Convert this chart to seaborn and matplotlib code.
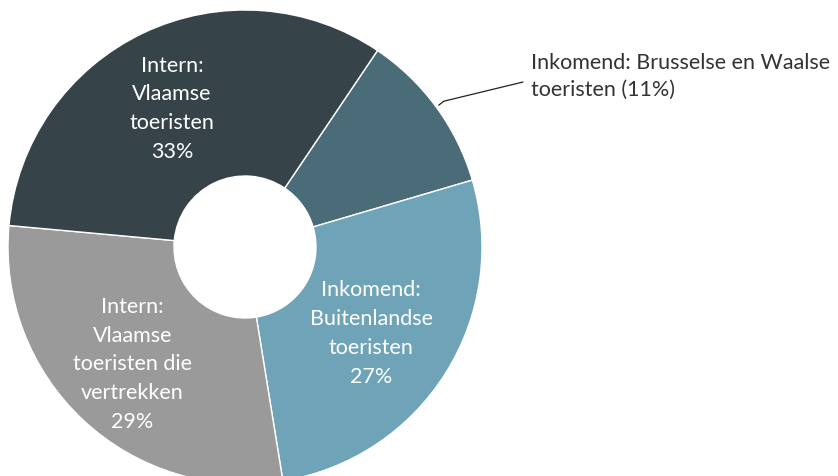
import matplotlib
matplotlib.use("Agg")
import matplotlib.pyplot as plt
import seaborn as sns
import numpy as np

categorieen = [
    "Inkomend: Brusselse en Waalse toeristen",
    "Inkomend:\nBuitenlandse\ntoeristen",
    "Intern:\nVlaamse\ntoeristen die\nvertrekken",
    "Intern:\nVlaamse\ntoeristen",
]
aandelen = [11, 27, 29, 33]
kleuren = ["#4a6b78", "#6fa3b8", "#9a9a9a", "#36444a"]

sns.set_theme(style="white")
plt.rcParams["font.family"] = ["Lato", "DejaVu Sans"]

W, H = 838, 476
fig = plt.figure(figsize=(W / 100, H / 100), dpi=100)
ax = fig.add_axes([0, 0, 1, 1])

cx, cy, r = 245, H - 247, 237
wedges, _ = ax.pie(
    aandelen,
    colors=kleuren,
    startangle=90 - 34,
    counterclock=False,
    center=(cx, cy),
    radius=r,
    wedgeprops=dict(width=r - 71, edgecolor="white", linewidth=1),
)

# labels binnen de ring (behalve het kleine segment)
for w, naam, pct in zip(wedges, categorieen, aandelen):
    if pct < 15:
        continue
    hoek = np.deg2rad((w.theta1 + w.theta2) / 2)
    afst = 0.66 * r
    ax.text(cx + afst * np.cos(hoek) - 6, cy + afst * np.sin(hoek) - 3,
            f"{naam}\n{pct}%", ha="center", va="center",
            color="white", fontsize=15.5, linespacing=1.55)

# callout voor het kleine segment
w = wedges[0]
hoek = np.deg2rad((w.theta1 + w.theta2) / 2)
px, py = cx + (r + 3) * np.cos(hoek), cy + (r + 3) * np.sin(hoek)
ax.plot([px, px + 5, 523], [py, py + 4, H - 82], color="#222222", lw=0.9)
ax.text(531, H - 53, "Inkomend: Brusselse en Waalse\ntoeristen (11%)",
        ha="left", va="top", fontsize=15.5, color="#333333", linespacing=1.45)

ax.set_xlim(0, W)
ax.set_ylim(0, H)
ax.set_aspect("equal")
ax.axis("off")

plt.savefig("out.png", dpi=100)
